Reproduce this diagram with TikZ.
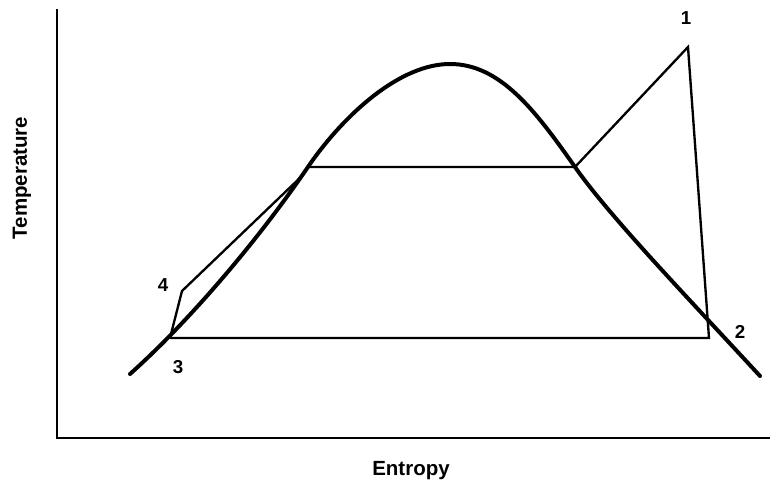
\documentclass[tikz,border=0pt]{standalone}
\usepackage{fontspec}
\setmainfont{Liberation Sans}
\usetikzlibrary{positioning}

\begin{document}
\begin{tikzpicture}[x=0.03cm,y=-0.03cm,
axisline/.style={line width=2.5pt,line cap=rect},
dome/.style={line width=3.4pt,line join=round,line cap=round},
cycle/.style={line width=2pt,line join=miter},
ptlabel/.style={font=\bfseries\fontsize{16}{19}\selectfont,inner sep=1pt},
axlabel/.style={font=\bfseries\fontsize{17.5}{21}\selectfont,inner sep=1pt}]
\useasboundingbox (0,0) rectangle (771,492);
% axes
\coordinate (origin) at (57,438);
\coordinate (ytop) at (57,10);
\coordinate (xend) at (769,438);
\draw[axisline] (ytop) -- (origin) -- (xend);
\node[axlabel] (entropy) at (411,471) {Entropy};
\node[axlabel,rotate=90] (temperature) at (22,178) {Temperature};
% cycle states
\coordinate (p1) at (688,47);
\coordinate (p2) at (709,338);
\coordinate (p3) at (170,338);
\coordinate (p4) at (182,291);
\coordinate (satliq) at (303,175);
\coordinate (liqend) at (309,167);
\coordinate (satvap) at (575,167);
\draw[cycle] (p3) -- (p4) -- (satliq);
\draw[cycle] (liqend) -- (satvap) -- (p1) -- (p2) -- (p3);
% saturation dome
\coordinate (domestart) at (130,374);
\coordinate (domeleft) at (310,164);
\coordinate (crit) at (450,64);
\coordinate (domeright) at (575,167);
\coordinate (domeend) at (760,376);
\draw[dome] (domestart) .. controls (185,325) and (255,245) .. (domeleft)
 .. controls (345,114) and (400,64) .. (crit)
 .. controls (500,64) and (535,110) .. (domeright)
 .. controls (610,217) and (690,300) .. (domeend);
\node[ptlabel] (l1) at (686,18) {1};
\node[ptlabel] (l2) at (740,332) {2};
\node[ptlabel] (l3) at (178,367) {3};
\node[ptlabel] (l4) at (163,285) {4};
\end{tikzpicture}
\end{document}
